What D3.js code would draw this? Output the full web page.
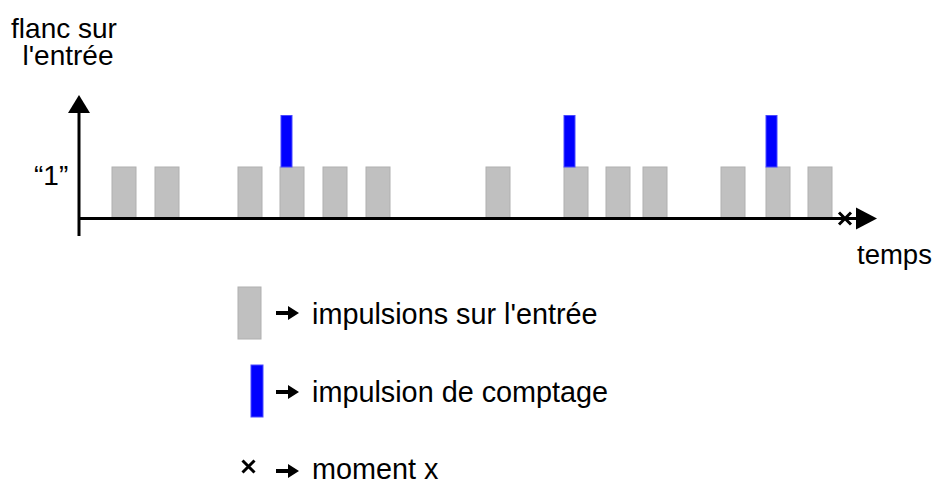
<!DOCTYPE html>
<html>
<head>
<meta charset="utf-8">
<script src="https://cdn.jsdelivr.net/npm/d3@7"></script>
<style>
  body { margin: 0; background: #fff; }
  text { font-family: "Liberation Sans", Arial, sans-serif; fill: #000; }
</style>
</head>
<body>
<div id="chart"></div>
<script>
// pulse start times (1 unit = pulse grid of the drawing)
const pulseStarts = [33, 76, 159, 201, 244, 287, 407, 485, 527, 564, 642, 687, 729];
const pulseWidth = 24;
const countStarts = [202, 485, 687];
const countWidth = 11;
const momentX = 766;
const yLevelLabel = '\u201c1\u201d';
const legendLabels = ['impulsions sur l\'entrée', 'impulsion de comptage', 'moment x'];

const width = 936, height = 480;
const svg = d3.select('#chart').append('svg')
  .attr('width', width)
  .attr('height', height);

const x = d3.scaleLinear().domain([0, 800]).range([79, 879]);
const y = d3.scaleLinear().domain([0, 2]).range([218.5, 115.5]);

// input pulses
svg.append('g').selectAll('rect')
  .data(pulseStarts)
  .enter().append('rect')
  .attr('x', d => x(d))
  .attr('y', y(1))
  .attr('width', x(pulseWidth) - x(0))
  .attr('height', y(0) - y(1))
  .attr('fill', '#c0c0c0')
  .attr('stroke', '#b0b0b0')
  .attr('stroke-width', 1);

// counting pulses
svg.append('g').selectAll('rect')
  .data(countStarts)
  .enter().append('rect')
  .attr('x', d => x(d))
  .attr('y', y(2))
  .attr('width', x(countWidth) - x(0))
  .attr('height', y(1) - y(2))
  .attr('fill', '#0000ff')
  .attr('stroke', '#4a4aff')
  .attr('stroke-width', 1);

// axes
svg.append('line')
  .attr('x1', x(0)).attr('x2', x(0))
  .attr('y1', 236).attr('y2', 112)
  .attr('stroke', '#000').attr('stroke-width', 3);
svg.append('path')
  .attr('d', `M${x(0) - 11},113 L${x(0) + 11},113 L${x(0)},95 Z`)
  .attr('fill', '#000');

svg.append('line')
  .attr('x1', x(0) - 1).attr('x2', 858)
  .attr('y1', y(0)).attr('y2', y(0))
  .attr('stroke', '#000').attr('stroke-width', 3);
svg.append('path')
  .attr('d', `M856,${y(0) - 11} L856,${y(0) + 11} L877,${y(0)} Z`)
  .attr('fill', '#000');

// moment x
function cross(g, cx, cy, r, sw) {
  g.append('path')
    .attr('d', `M${cx - r},${cy - r} L${cx + r},${cy + r} M${cx - r},${cy + r} L${cx + r},${cy - r}`)
    .attr('stroke', '#000').attr('stroke-width', sw).attr('fill', 'none');
}
cross(svg, x(momentX), y(0), 6, 3);

// labels
svg.append('text').attr('x', 64).attr('y', 38).attr('text-anchor', 'middle')
  .style('font-size', '28px').text('flanc sur');
svg.append('text').attr('x', 68).attr('y', 65).attr('text-anchor', 'middle')
  .style('font-size', '28px').text('l\'entrée');
svg.append('text').attr('x', 34).attr('y', 185)
  .style('font-size', '28px').text(yLevelLabel);
svg.append('text').attr('x', 857).attr('y', 264)
  .style('font-size', '27.5px').text('temps');

// legend
const legend = svg.append('g');
legend.append('rect')
  .attr('x', 238).attr('y', 287).attr('width', 23).attr('height', 52)
  .attr('fill', '#c0c0c0').attr('stroke', '#b0b0b0');
legend.append('rect')
  .attr('x', 251).attr('y', 365).attr('width', 12).attr('height', 52)
  .attr('fill', '#0000ff').attr('stroke', '#4a4aff');
cross(legend, 248.5, 466.5, 6, 3);

const arrowY = [313, 392, 471];
const textY = [324, 402, 479];
arrowY.forEach((ly, i) => {
  legend.append('path')
    .attr('d', `M276,${ly - 2} L288,${ly - 2} L288,${ly - 7} L299,${ly} L288,${ly + 7} L288,${ly + 2} L276,${ly + 2} Z`)
    .attr('fill', '#000');
  legend.append('text')
    .attr('x', 312).attr('y', textY[i])
    .style('font-size', '28.8px')
    .text(legendLabels[i]);
});
</script>
</body>
</html>
